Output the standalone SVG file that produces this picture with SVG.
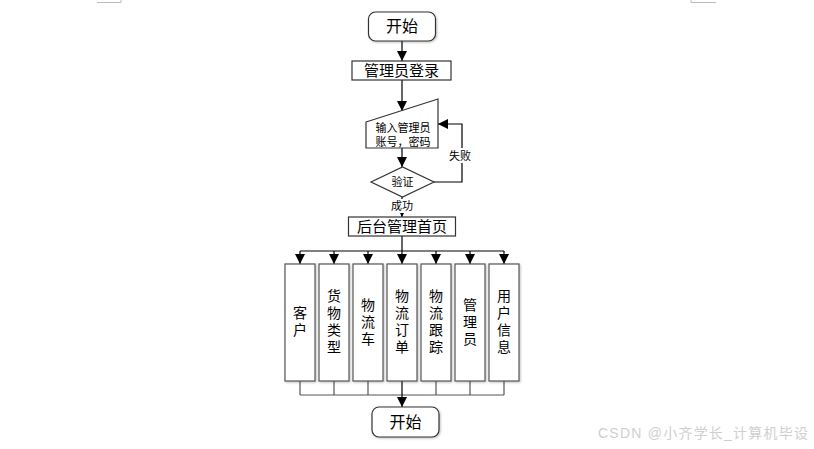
<svg xmlns="http://www.w3.org/2000/svg" width="814" height="449" viewBox="0 0 814 449">
<defs>
<marker id="ah" viewBox="0 0 10 10" refX="10" refY="5" markerWidth="10" markerHeight="10" markerUnits="userSpaceOnUse" orient="auto">
<path d="M0,0 L10,5 L0,10 z" fill="#000"/>
</marker>
<filter id="sh" x="-20%" y="-20%" width="140%" height="140%">
<feDropShadow dx="1" dy="1" stdDeviation="1" flood-color="#000" flood-opacity="0.25"/>
</filter>
</defs>
<style>
text{font-family:"Liberation Sans","Noto Sans CJK SC",sans-serif;fill:#000;}
.box{fill:#fff;stroke:#333;stroke-width:1.2;}
.col{fill:#fff;stroke:#555;stroke-width:1.2;filter:url(#sh);}
.ln{fill:none;stroke:#000;stroke-width:1.2;}
.bl{fill:none;stroke:#555;stroke-width:1.2;}
.big{font-size:16px;text-anchor:middle;}
.mid{font-size:15px;text-anchor:middle;}
.sm{font-size:11px;text-anchor:middle;}
.v{font-size:14px;text-anchor:middle;}
</style>
<rect width="814" height="449" fill="#fff"/>
<g id="corners" stroke="#bbb" stroke-width="1" fill="none">
<path d="M97,2.5 H121 V0"/>
<path d="M716,2.5 H691 V0"/>
</g>
<g id="connectors">
<line class="ln" x1="402" y1="41" x2="402" y2="61" marker-end="url(#ah)"/>
<line class="ln" x1="402" y1="80" x2="402" y2="111" marker-end="url(#ah)"/>
<line class="ln" x1="402" y1="148" x2="402" y2="167" marker-end="url(#ah)"/>
<polyline class="ln" points="434,182 462,182 462,124 438,124" marker-end="url(#ah)"/>
<line class="ln" x1="402" y1="197" x2="402" y2="217" marker-end="url(#ah)"/>
<line class="ln" x1="402" y1="236" x2="402" y2="251"/>
<line class="ln" x1="300" y1="251" x2="504" y2="251"/>
<line class="ln" x1="300" y1="251" x2="300" y2="264" marker-end="url(#ah)"/>
<line class="ln" x1="334" y1="251" x2="334" y2="264" marker-end="url(#ah)"/>
<line class="ln" x1="368" y1="251" x2="368" y2="264" marker-end="url(#ah)"/>
<line class="ln" x1="402" y1="251" x2="402" y2="264" marker-end="url(#ah)"/>
<line class="ln" x1="436" y1="251" x2="436" y2="264" marker-end="url(#ah)"/>
<line class="ln" x1="470" y1="251" x2="470" y2="264" marker-end="url(#ah)"/>
<line class="ln" x1="504" y1="251" x2="504" y2="264" marker-end="url(#ah)"/>
<path class="bl" d="M300,381 V395 M334,381 V395 M368,381 V395 M436,381 V395 M470,381 V395 M504,381 V395 M300,395 H504"/>
<line class="ln" x1="402" y1="381" x2="402" y2="407" marker-end="url(#ah)"/>
<rect x="443" y="148" width="34" height="15" fill="#fff"/>
<text class="sm" x="460" y="160">失败</text>
<rect x="389" y="199" width="26" height="14" fill="#fff"/>
<text class="sm" x="402" y="210">成功</text>
</g>
<g id="start">
<rect class="box" x="368.5" y="12" width="67" height="29" rx="7" filter="url(#sh)"/>
<text class="big" x="402" y="32">开始</text>
</g>
<g id="login">
<rect class="box" x="352" y="61" width="99" height="19"/>
<text class="mid" x="401.5" y="76">管理员登录</text>
</g>
<g id="input">
<polygon class="box" points="366,122 438,99 438,148 366,148"/>
<text class="sm" x="403" y="132">输入管理员</text>
<text class="sm" x="403" y="146">账号，密码</text>
</g>
<g id="verify">
<polygon class="box" points="371,182 402.5,167 434,182 402.5,197"/>
<text class="sm" x="402.5" y="186">验证</text>
</g>
<g id="home">
<rect class="box" x="348.5" y="217" width="107" height="19"/>
<text class="mid" x="402" y="232">后台管理首页</text>
</g>
<g id="c1"><rect class="col" x="285" y="264" width="30" height="117"/>
<text class="v" x="300" y="318">客</text><text class="v" x="300" y="335">户</text></g>
<g id="c2"><rect class="col" x="319" y="264" width="30" height="117"/>
<text class="v" x="334" y="301">货</text><text class="v" x="334" y="318">物</text><text class="v" x="334" y="335">类</text><text class="v" x="334" y="352">型</text></g>
<g id="c3"><rect class="col" x="353" y="264" width="30" height="117"/>
<text class="v" x="368" y="310">物</text><text class="v" x="368" y="327">流</text><text class="v" x="368" y="344">车</text></g>
<g id="c4"><rect class="col" x="387" y="264" width="30" height="117"/>
<text class="v" x="402" y="301">物</text><text class="v" x="402" y="318">流</text><text class="v" x="402" y="335">订</text><text class="v" x="402" y="352">单</text></g>
<g id="c5"><rect class="col" x="421" y="264" width="30" height="117"/>
<text class="v" x="436" y="301">物</text><text class="v" x="436" y="318">流</text><text class="v" x="436" y="335">跟</text><text class="v" x="436" y="352">踪</text></g>
<g id="c6"><rect class="col" x="455" y="264" width="30" height="117"/>
<text class="v" x="470" y="310">管</text><text class="v" x="470" y="327">理</text><text class="v" x="470" y="344">员</text></g>
<g id="c7"><rect class="col" x="489" y="264" width="30" height="117"/>
<text class="v" x="504" y="301">用</text><text class="v" x="504" y="318">户</text><text class="v" x="504" y="335">信</text><text class="v" x="504" y="352">息</text></g>
<g id="end">
<rect class="box" x="372" y="407" width="67" height="30" rx="7" filter="url(#sh)"/>
<text class="big" x="405.5" y="428">开始</text>
</g>
<text x="598" y="438" textLength="210" lengthAdjust="spacing" style="font-size:14px;fill:#cfcfcf;">CSDN @小齐学长_计算机毕设</text>
</svg>
